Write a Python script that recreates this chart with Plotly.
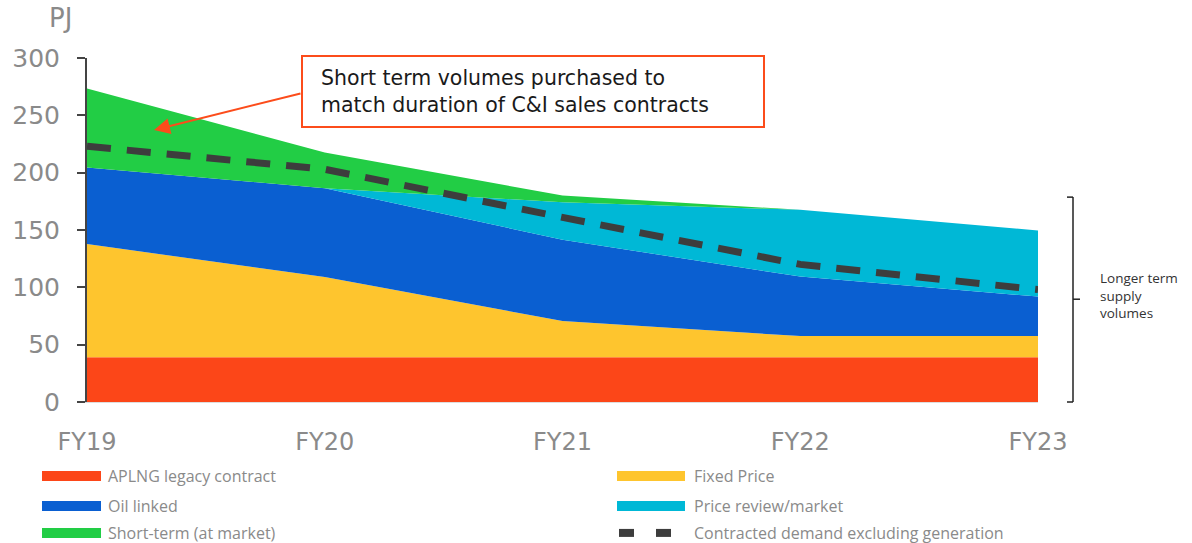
import plotly.graph_objects as go

years = ["FY19", "FY20", "FY21", "FY22", "FY23"]
aplng_legacy = [39, 39, 39, 39, 39]
fixed_price = [98.7, 70, 31.6, 18.5, 18.5]
oil_linked = [66.8, 77.5, 70.9, 51.9, 34.4]
price_review = [0, 0, 32.6, 58.2, 57.7]
short_term = [68.8, 31, 6, 0, 0]
contracted_demand = [223, 203, 161, 120, 98]

series_names = ["APLNG legacy contract", "Fixed Price", "Oil linked",
                "Price review/market", "Short-term (at market)"]
series_colors = ["#FC4618", "#FEC52E", "#0A5FD1", "#00B8D6", "#22CD45"]
line_name = "Contracted demand excluding generation"
line_color = "#3d3d3d"

FONT = "Open Sans"
WIDE = "DejaVu Sans"
GREY = "#8a8a8a"

fig = go.Figure()
for name, vals, col in zip(series_names,
                           [aplng_legacy, fixed_price, oil_linked, price_review, short_term],
                           series_colors):
    fig.add_trace(go.Scatter(x=years, y=vals, name=name, stackgroup="s", mode="lines",
                             line=dict(width=0, color=col), fillcolor=col, showlegend=False))
fig.add_trace(go.Scatter(x=years, y=contracted_demand, name=line_name, mode="lines",
                         line=dict(color=line_color, width=7, dash="24px,16px"), showlegend=False))

# plot area in px: x 87..1038, y 58..401.7
def px_x(px):
    return (px - 87) / 951.0

def px_y(py):
    return (401.7 - py) / 343.7

shapes = []
annotations = []

# custom legend (two columns)
legend_rows = [475.7, 505.7, 532.5]
left_items = [(series_names[0], series_colors[0]), (series_names[2], series_colors[2]), (series_names[4], series_colors[4])]
right_items = [(series_names[1], series_colors[1]), (series_names[3], series_colors[3])]
for (name, col), ry in zip(left_items, legend_rows):
    shapes.append(dict(type="rect", xref="paper", yref="paper", x0=px_x(42), x1=px_x(101),
                       y0=px_y(ry + 5), y1=px_y(ry - 5), fillcolor=col, line=dict(width=0)))
    annotations.append(dict(xref="paper", yref="paper", x=px_x(106), y=px_y(ry), text=name,
                            showarrow=False, xanchor="left", yanchor="middle",
                            font=dict(family=FONT, size=16, color=GREY)))
for (name, col), ry in zip(right_items, legend_rows[:2]):
    shapes.append(dict(type="rect", xref="paper", yref="paper", x0=px_x(617), x1=px_x(685),
                       y0=px_y(ry + 5), y1=px_y(ry - 5), fillcolor=col, line=dict(width=0)))
    annotations.append(dict(xref="paper", yref="paper", x=px_x(692), y=px_y(ry), text=name,
                            showarrow=False, xanchor="left", yanchor="middle",
                            font=dict(family=FONT, size=16, color=GREY)))
ry = legend_rows[2]
for a, b in [(619, 634), (656, 671)]:
    shapes.append(dict(type="line", xref="paper", yref="paper", x0=px_x(a), x1=px_x(b),
                       y0=px_y(ry), y1=px_y(ry), line=dict(color=line_color, width=8)))
annotations.append(dict(xref="paper", yref="paper", x=px_x(692), y=px_y(ry), text=line_name,
                        showarrow=False, xanchor="left", yanchor="middle",
                        font=dict(family=FONT, size=16, color=GREY)))

# callout box
shapes.append(dict(type="rect", xref="paper", yref="paper", x0=px_x(302), x1=px_x(764),
                   y0=px_y(127), y1=px_y(56), line=dict(color="#FC4C1B", width=2),
                   fillcolor="white", layer="above"))
annotations.append(dict(xref="paper", yref="paper", x=px_x(319), y=px_y(91),
                        text="Short term volumes purchased to<br>match duration of C&I sales contracts",
                        showarrow=False, xanchor="left", yanchor="middle", align="left",
                        font=dict(family=WIDE, size=20.5, color="#1a1a1a")))
annotations.append(dict(xref="paper", yref="paper", axref="pixel", ayref="pixel",
                        x=px_x(154), y=px_y(130), ax=148, ay=-37, text="",
                        showarrow=True, arrowhead=2, arrowsize=1.6, arrowwidth=2,
                        arrowcolor="#FC4C1B", standoff=0))

# PJ label
annotations.append(dict(xref="paper", yref="paper", x=px_x(47), y=px_y(18), text="PJ",
                        showarrow=False, xanchor="left", yanchor="middle",
                        font=dict(family=WIDE, size=26, color=GREY)))

# right bracket
bx = 1073
for (x0, y0, x1, y1) in [(1067, 197, bx, 197), (bx, 197, bx, 401.7), (1067, 401.7, bx, 401.7), (bx, 299, 1080, 299)]:
    shapes.append(dict(type="line", xref="paper", yref="paper", x0=px_x(x0), x1=px_x(x1),
                       y0=px_y(y0), y1=px_y(y1), line=dict(color="#222", width=1.5)))
annotations.append(dict(xref="paper", yref="paper", x=px_x(1098), y=px_y(295),
                        text="Longer term<br>supply<br>volumes", showarrow=False,
                        xanchor="left", yanchor="middle", align="left",
                        font=dict(family=FONT, size=13.5, color="#333")))

fig.update_layout(
    width=1192, height=543,
    margin=dict(l=87, r=154, t=58, b=141.3, autoexpand=False),
    paper_bgcolor="white", plot_bgcolor="white",
    showlegend=False,
    shapes=shapes, annotations=annotations,
    xaxis=dict(type="category", range=[0, 4], showgrid=False, zeroline=False, automargin=False,
               showline=True, linecolor="#dddddd", linewidth=1, ticks="",
               ticklabelstandoff=18,
               tickfont=dict(family=WIDE, size=24, color=GREY)),
    yaxis=dict(range=[0, 300], tickvals=[0, 50, 100, 150, 200, 250, 300], showgrid=False,
               zeroline=False, showline=True, linecolor="#444", linewidth=2, automargin=False,
               ticks="outside", ticklen=8, tickwidth=2, tickcolor="#444",
               ticklabelstandoff=12,
               tickfont=dict(family=WIDE, size=25, color=GREY)),
)

fig.write_html("out.html", config={"displayModeBar": False},
               post_script="document.body.style.margin='0';document.body.style.overflow='hidden';")
